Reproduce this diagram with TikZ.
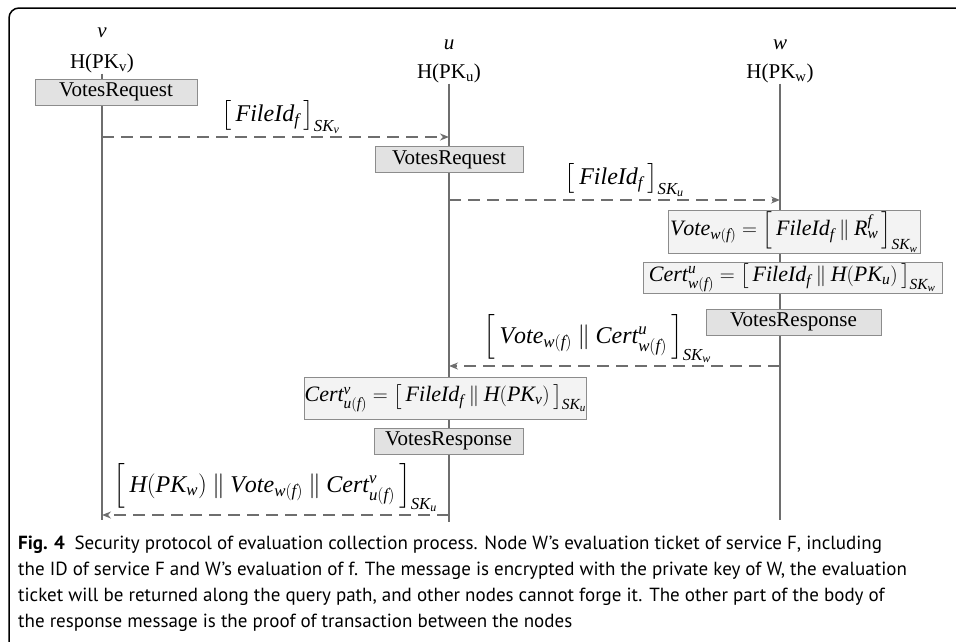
\documentclass[tikz,border=0pt]{standalone}
\usepackage{amsmath}
\usepackage{fontspec}
\setmainfont{Liberation Serif}
% Times-like italic letters in math
\newfontfamily\mathletfont{Liberation Serif}[NFSSFamily=libsermath]
\DeclareSymbolFont{letters}{TU}{libsermath}{m}{it}
\newfontfamily\capfont{PT Sans}
\usepackage{tikz}
\usetikzlibrary{arrows.meta, positioning}

\definecolor{lifegray}{HTML}{6E6E6E}
\definecolor{boxgray}{HTML}{8C8C8C}
\definecolor{actfill}{HTML}{E2E2E2}
\definecolor{eqfill}{HTML}{F3F3F3}

% tall square brackets round a message
\newcommand{\sqbr}[1]{\left[\,\rule[-9pt]{0pt}{29pt}#1\,\right]}
\newcommand{\boxbr}[1]{\left[\,\rule[-7pt]{0pt}{25pt}#1\,\right]}
\newcommand{\cat}{\mathbin{\|}}

\tikzset{
    life/.style={lifegray, line width=2.5pt},
    msg/.style={lifegray, line width=2pt, dash pattern=on 12pt off 7pt,
        -{Stealth[length=9pt, width=7pt]}},
    msglabel/.style={text=black, font=\fontsize{24}{28}\selectfont, inner sep=1pt},
    actbox/.style={draw=boxgray, fill=actfill, line width=1pt, minimum height=26pt,
        inner sep=0pt, font=\fontsize{21}{24}\selectfont},
    eqbox/.style={draw=boxgray, fill=eqfill, line width=1pt, inner sep=0pt,
        font=\fontsize{22}{26}\selectfont},
    headlabel/.style={font=\fontsize{21}{24}\selectfont, inner sep=1pt},
}

\begin{document}
\begin{tikzpicture}[x=1pt, y=-1pt]
    \useasboundingbox (0,0) rectangle (956,641);

    % Draw the frame
    \draw[line width=1.5pt, rounded corners=10pt] (956,8) -- (9,8) -- (9,650);

    % Draw the lifeline heads
    \node[headlabel] (vname) at (102,33) {$v$};
    \node[headlabel] (vkey) at (102,63) {H(PK\textsubscript{v})};
    \node[headlabel] (uname) at (449,45) {$u$};
    \node[headlabel] (ukey) at (449,73) {H(PK\textsubscript{u})};
    \node[headlabel] (wname) at (780,45) {$w$};
    \node[headlabel] (wkey) at (780,73) {H(PK\textsubscript{w})};

    % Draw the lifelines
    \coordinate (vend) at (102,520);
    \coordinate (uend) at (449,522);
    \coordinate (wend) at (780,520);
    \draw[life] (vkey.south) -- (vend);
    \draw[life] (ukey.south) -- (uend);
    \draw[life] (wkey.south) -- (wend);

    % Draw the boxes on the lifelines
    \node[actbox, minimum width=162pt] (reqv) at (116,92) {VotesRequest};
    \node[actbox, minimum width=148pt] (requ) at (449,159.5) {VotesRequest};
    \node[eqbox, minimum width=252pt, minimum height=43pt] (votew) at (794,232)
        {$Vote_{w(f)}=\boxbr{FileId_f\cat R_w^f}_{SK_w}$};
    \node[eqbox, minimum width=299pt, minimum height=31pt] (certw) at (792.5,277.5)
        {$Cert_{w(f)}^u=\boxbr{FileId_f\cat H(PK_u)}_{SK_w}$};
    \node[actbox, minimum width=175pt] (respw) at (793.5,322) {VotesResponse};
    \node[eqbox, minimum width=281pt, minimum height=42pt] (certu) at (445.5,398)
        {$Cert_{u(f)}^v=\boxbr{FileId_f\cat H(PK_v)}_{SK_u}$};
    \node[actbox, minimum width=149pt] (respu) at (448.5,441) {VotesResponse};

    % Draw the messages
    \coordinate (v1) at (102,137);
    \coordinate (u1) at (449,137);
    \coordinate (u2) at (449,200);
    \coordinate (w2) at (780,200);
    \coordinate (w3) at (780,366);
    \coordinate (u3) at (449,366);
    \coordinate (u4) at (449,515);
    \coordinate (v4) at (102,515);
    \draw[msg] (v1) -- (u1)
        node[msglabel, midway, above=1pt, xshift=5pt] (m1) {$\sqbr{FileId_f}_{SK_v}$};
    \draw[msg] (u2) -- (w2)
        node[msglabel, midway, above=1pt, xshift=10pt] (m2) {$\sqbr{FileId_f}_{SK_u}$};
    \draw[msg] (w3) -- (u3)
        node[msglabel, midway, above=1pt, xshift=-17pt] (m3) {$\sqbr{Vote_{w(f)}\cat Cert_{w(f)}^u}_{SK_w}$};
    \draw[msg] (u4) -- (v4)
        node[msglabel, midway, above=1pt] (m4) {$\sqbr{H(PK_w)\cat Vote_{w(f)}\cat Cert_{u(f)}^v}_{SK_u}$};

    % Draw the caption
    \node[anchor=north west, align=left, inner sep=0pt, font=\capfont\fontsize{19}{26}\selectfont]
        (caption) at (18,536)
        {\textbf{Fig. 4}\enspace Security protocol of evaluation collection process. Node W’s evaluation ticket of service F, including\\
        the ID of service F and W’s evaluation of f. The message is encrypted with the private key of W, the evaluation\\
        ticket will be returned along the query path, and other nodes cannot forge it. The other part of the body of\\
        the response message is the proof of transaction between the nodes};
\end{tikzpicture}
\end{document}
